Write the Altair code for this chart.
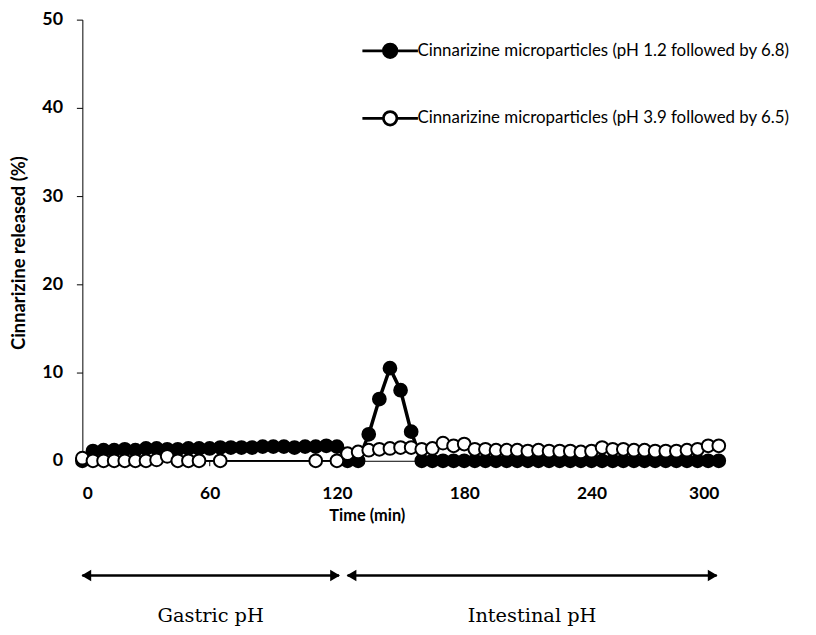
import altair as alt
import pandas as pd

series = [
    "Cinnarizine microparticles (pH 1.2 followed by 6.8)",
    "Cinnarizine microparticles (pH 3.9 followed by 6.5)",
]

# Series 1 (filled markers): every 5 min from 0 to 300
time_black = list(range(0, 301, 5))
release_black = [
    0.0, 1.1, 1.2, 1.2, 1.3, 1.2, 1.4, 1.4, 1.3, 1.3, 1.4, 1.4, 1.4,
    1.5, 1.5, 1.5, 1.5, 1.6, 1.6, 1.6, 1.5, 1.6, 1.6, 1.7, 1.6,
    0.0, 0.0, 3.0, 7.0, 10.5, 8.0, 3.3, 0.0, 0.0, 0.0, 0.0, 0.0,
    0.0, 0.0, 0.0, 0.0, 0.0, 0.0, 0.0, 0.0, 0.0, 0.0, 0.0, 0.0,
    0.0, 0.0, 0.0, 0.0, 0.0, 0.0, 0.0, 0.0, 0.0, 0.0, 0.0, 0.0,
]

# Series 2 (open markers)
time_open = [0, 5, 10, 15, 20, 25, 30, 35, 40, 45, 50, 55, 65, 110, 120] + list(range(125, 301, 5))
release_open = [
    0.3, 0.0, 0.0, 0.0, 0.0, 0.0, 0.0, 0.1, 0.5, 0.0, 0.0, 0.0, 0.0, 0.0, 0.0,
    0.8, 1.0, 1.2, 1.3, 1.4, 1.5, 1.5, 1.3, 1.4, 2.0, 1.7, 1.9,
    1.3, 1.3, 1.2, 1.2, 1.2, 1.1, 1.2, 1.1, 1.1, 1.1, 1.0, 1.1,
    1.5, 1.3, 1.3, 1.2, 1.2, 1.1, 1.1, 1.1, 1.2, 1.3, 1.7, 1.7,
]

x_ticks = [0, 60, 120, 180, 240, 300]
y_ticks = [0, 10, 20, 30, 40, 50]

phases = ["Gastric pH", "Intestinal pH"]
phase_start = [0, 125]
phase_end = [121, 299]
arrow_level = -13.0
label_level = -17.6

df_black = pd.DataFrame({"time": time_black, "release": release_black, "series": series[0]})
df_open = pd.DataFrame({"time": time_open, "release": release_open, "series": series[1]})
df_phase = pd.DataFrame({
    "phase": phases,
    "start": phase_start,
    "end": phase_end,
    "mid": [(a + b) / 2 for a, b in zip(phase_start, phase_end)],
})

FONT = "Lato"

x_enc = alt.X(
    "time:Q",
    scale=alt.Scale(domain=[0, 300], nice=False, zero=False),
    axis=alt.Axis(
        values=x_ticks, title="Time (min)", grid=False,
        domainColor="black", tickColor="black", tickSize=5,
        labelFont=FONT, labelFontSize=17.5, labelFontWeight="bold", labelColor="black",
        labelPadding=19,
        titleFont=FONT, titleFontSize=16.5, titleFontWeight="bold", titleColor="black",
        titleX=287, titleY=55, titleBaseline="middle", titleAlign="center", titleAnchor="start",
    ),
)
y_enc = alt.Y(
    "release:Q",
    scale=alt.Scale(domain=[0, 50], nice=False),
    axis=alt.Axis(
        values=y_ticks, title="Cinnarizine released (%)", grid=False,
        domainColor="black", tickColor="black", tickSize=6,
        labelFont=FONT, labelFontSize=18, labelFontWeight="bold", labelColor="black",
        labelPadding=14,
        titleFont=FONT, titleFontSize=18.5, titleFontWeight="bold", titleColor="black",
        titlePadding=13, titleY=235, titleAlign="center", titleBaseline="bottom",
    ),
)

legend_path = ("M-3.5,0L-0.85,0M0.85,0L3.5,0"
               "M-0.85,0A0.85,0.85,0,1,1,0.85,0A0.85,0.85,0,1,1,-0.85,0Z")

fill_scale = alt.Scale(domain=series, range=["black", "white"])
fill_enc = alt.Fill(
    "series:N", scale=fill_scale,
    legend=alt.Legend(
        title=None, orient="none", legendX=301, legendY=22, padding=0,
        symbolType=legend_path, symbolSize=256, symbolStrokeColor="black",
        symbolStrokeWidth=2.8, labelOffset=18, rowPadding=43,
        labelFont=FONT, labelFontSize=17, labelColor="black", labelLimit=600,
    ),
)

line_black = alt.Chart(df_black).mark_line(color="black", strokeWidth=3.5).encode(x=x_enc, y=y_enc)
pts_black = alt.Chart(df_black).mark_point(
    shape="circle", size=165, filled=False, stroke="black", strokeWidth=2, opacity=1
).encode(x=x_enc, y=y_enc, fill=fill_enc)
line_open = alt.Chart(df_open).mark_line(color="black", strokeWidth=1.8).encode(x=x_enc, y=y_enc)
pts_open = alt.Chart(df_open).mark_point(
    shape="circle", size=165, filled=False, stroke="black", strokeWidth=2, opacity=1
).encode(x=x_enc, y=y_enc, fill=alt.Fill("series:N", scale=fill_scale))

arrow_y = alt.Y(datum=arrow_level)
arrows = alt.Chart(df_phase).mark_rule(color="black", strokeWidth=2.5).encode(
    x=alt.X("start:Q"), x2="end:Q", y=arrow_y
)
heads_left = alt.Chart(df_phase).mark_point(
    shape="triangle-left", size=130, filled=True, color="black", opacity=1, xOffset=4
).encode(x="start:Q", y=arrow_y)
heads_right = alt.Chart(df_phase).mark_point(
    shape="triangle-right", size=130, filled=True, color="black", opacity=1, xOffset=-4
).encode(x="end:Q", y=arrow_y)
phase_text = alt.Chart(df_phase).mark_text(
    font="DejaVu Serif", fontSize=19.5, color="black", align="center", baseline="middle"
).encode(x="mid:Q", y=alt.Y(datum=label_level), text="phase:N")

chart = alt.layer(
    line_black, pts_black, line_open, pts_open, arrows, heads_left, heads_right, phase_text
).properties(
    width=642, height=445,
    autosize=alt.AutoSizeParams(type="none"),
    padding={"left": 75, "top": 9, "right": 90, "bottom": 173},
    background="white",
).configure_view(stroke=None)

chart.save("out.html", embed_options={"renderer": "svg", "actions": False})
